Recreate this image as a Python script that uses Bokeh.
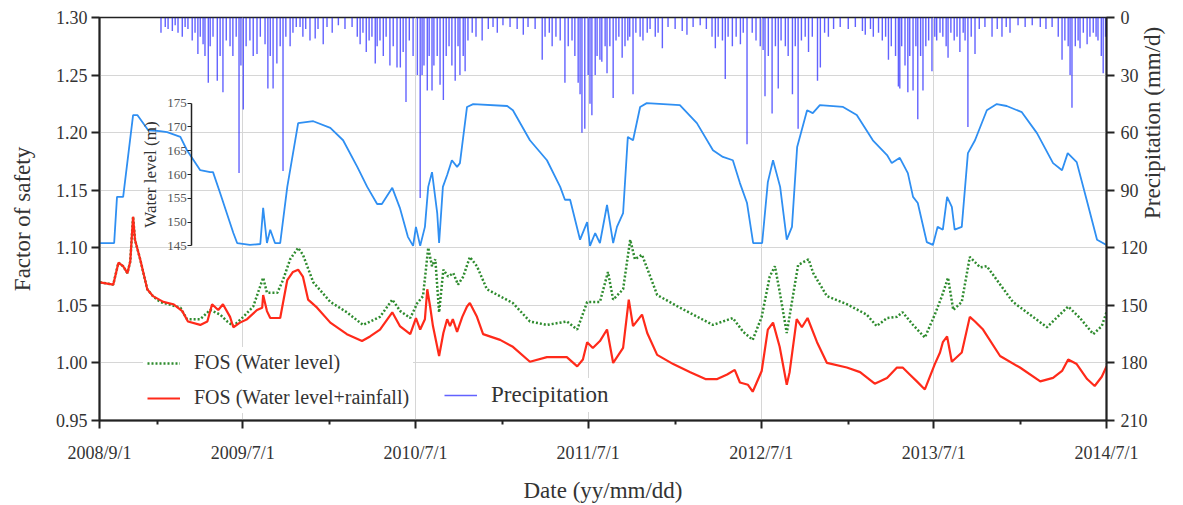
import math
import numpy as np
import pandas as pd
from bokeh.plotting import figure
from bokeh.models import (Range1d, LinearAxis, FixedTicker, Legend, LegendItem,
                          ColumnDataSource, NumeralTickFormatter)
from bokeh.embed import file_html
from bokeh.resources import INLINE

START = "2008-09-01"   # day 0 of all "day" arrays below
END = "2014-07-01"

# ---- water level (m) ----
wl_day = [1, 31, 37, 50, 71, 80, 103, 128, 143, 171, 185, 213, 234, 240, 255, 283, 291, 318, 340, 346,
          354, 361, 371, 382, 397, 420, 452, 488, 515, 545, 566, 587, 597, 619, 635, 652, 663, 669, 678,
          688, 695, 703, 714, 718, 726, 735, 745, 756, 762, 777, 790, 862, 874, 910, 946, 974, 984, 995,
          1016, 1031, 1037, 1048, 1058, 1073, 1086, 1094, 1107, 1117, 1128, 1143, 1157, 1227, 1263, 1297,
          1318, 1339, 1354, 1369, 1382, 1401, 1413, 1424, 1439, 1453, 1464, 1475, 1496, 1508, 1523, 1572,
          1601, 1635, 1665, 1675, 1692, 1709, 1720, 1730, 1749, 1762, 1772, 1783, 1792, 1802, 1808, 1823,
          1836, 1851, 1876, 1897, 1918, 1950, 1982, 2016, 2035, 2047, 2066, 2087, 2109, 2129]
wl_m = [145.6, 145.6, 155.3, 155.3, 172.5, 172.5, 169.3, 169.1, 168.9, 167.9, 165.1, 160.9, 160.5, 160.5,
        156.1, 147.7, 145.6, 145.2, 145.4, 153.0, 145.6, 148.4, 145.6, 145.6, 157.4, 170.8, 171.2, 169.8,
        167.2, 161.6, 157.4, 153.8, 153.8, 157.2, 153.0, 146.9, 145.0, 149.0, 145.0, 149.0, 157.4, 160.5,
        151.9, 145.6, 157.4, 159.9, 163.0, 161.6, 162.4, 174.2, 174.8, 174.4, 173.5, 167.2, 163.0, 157.4,
        154.7, 154.7, 146.3, 150.0, 145.0, 147.7, 145.6, 153.6, 145.6, 149.0, 151.9, 167.9, 167.2, 174.2,
        175.0, 174.6, 170.8, 165.1, 163.7, 163.0, 158.2, 154.0, 145.6, 145.6, 158.4, 163.0, 157.4, 146.3,
        149.0, 165.8, 173.5, 172.9, 174.6, 174.2, 172.5, 167.2, 164.1, 162.4, 163.5, 160.3, 155.3, 154.0,
        145.8, 145.2, 149.0, 148.4, 155.3, 153.2, 148.4, 149.0, 164.5, 167.2, 173.5, 174.8, 174.4, 173.1,
        168.7, 162.4, 160.9, 164.5, 162.6, 154.7, 146.3, 145.2]

# ---- FOS (water level + rainfall) ----
red_day = [1, 29, 40, 50, 59, 65, 71, 75, 86, 101, 113, 135, 156, 175, 187, 213, 228, 238, 251, 261, 276,
           283, 297, 312, 333, 344, 346, 354, 361, 382, 397, 409, 420, 430, 441, 460, 488, 523, 555, 572,
           593, 619, 635, 657, 669, 678, 688, 693, 699, 705, 718, 727, 735, 741, 747, 756, 767, 777, 783,
           798, 811, 847, 874, 910, 946, 988, 1010, 1022, 1031, 1043, 1058, 1073, 1086, 1107, 1119, 1128,
           1147, 1158, 1179, 1213, 1249, 1281, 1306, 1327, 1343, 1354, 1371, 1381, 1400, 1413, 1424, 1438,
           1453, 1459, 1474, 1485, 1497, 1517, 1538, 1580, 1608, 1639, 1665, 1686, 1698, 1713, 1728, 1745,
           1766, 1777, 1783, 1792, 1802, 1823, 1840, 1851, 1868, 1904, 1946, 1989, 2016, 2035, 2048, 2066,
           2088, 2104, 2119, 2129]
red_fos = [1.070, 1.068, 1.087, 1.084, 1.078, 1.088, 1.127, 1.107, 1.090, 1.064, 1.058, 1.053, 1.051,
           1.045, 1.036, 1.033, 1.036, 1.051, 1.046, 1.051, 1.040, 1.031, 1.035, 1.038, 1.046, 1.048,
           1.059, 1.045, 1.039, 1.039, 1.072, 1.079, 1.081, 1.075, 1.055, 1.048, 1.035, 1.025, 1.019,
           1.023, 1.029, 1.044, 1.032, 1.025, 1.039, 1.029, 1.038, 1.064, 1.049, 1.032, 1.006, 1.026,
           1.038, 1.032, 1.038, 1.027, 1.040, 1.049, 1.052, 1.040, 1.025, 1.020, 1.014, 1.001, 1.005,
           1.005, 0.997, 1.003, 1.018, 1.013, 1.019, 1.029, 1.000, 1.013, 1.055, 1.032, 1.042, 1.026,
           1.007, 0.999, 0.992, 0.986, 0.986, 0.990, 0.994, 0.983, 0.981, 0.975, 0.993, 1.029, 1.035,
           1.014, 0.981, 0.992, 1.038, 1.031, 1.039, 1.018, 1.000, 0.996, 0.992, 0.982, 0.987, 0.996,
           0.996, 0.990, 0.984, 0.977, 0.999, 1.009, 1.018, 1.023, 1.001, 1.009, 1.040, 1.036, 1.029,
           1.006, 0.996, 0.984, 0.987, 0.993, 1.003, 0.999, 0.986, 0.980, 0.988, 0.997]

# ---- FOS (water level) ----
green_day = [1, 29, 40, 50, 59, 65, 71, 75, 86, 101, 113, 128, 171, 185, 213, 234, 255, 270, 283, 304, 325,
             346, 354, 376, 388, 403, 420, 430, 452, 488, 523, 557, 593, 619, 636, 657, 672, 684, 695, 703,
             710, 718, 727, 737, 748, 758, 769, 783, 798, 819, 874, 910, 946, 988, 1010, 1031, 1058, 1075,
             1086, 1107, 1122, 1132, 1147, 1179, 1227, 1297, 1339, 1361, 1381, 1400, 1417, 1428, 1438,
             1453, 1466, 1477, 1499, 1509, 1538, 1580, 1622, 1643, 1665, 1686, 1698, 1720, 1745, 1766,
             1781, 1794, 1805, 1823, 1840, 1862, 1876, 1931, 2003, 2048, 2073, 2101, 2119, 2129]
green_fos = [1.070, 1.068, 1.087, 1.084, 1.078, 1.088, 1.127, 1.107, 1.090, 1.064, 1.058, 1.053, 1.048,
             1.038, 1.038, 1.046, 1.042, 1.036, 1.032, 1.040, 1.049, 1.074, 1.061, 1.061, 1.072, 1.090,
             1.100, 1.094, 1.070, 1.053, 1.044, 1.033, 1.040, 1.055, 1.045, 1.039, 1.052, 1.058, 1.100,
             1.084, 1.090, 1.044, 1.081, 1.075, 1.078, 1.068, 1.075, 1.092, 1.084, 1.064, 1.052, 1.036,
             1.033, 1.036, 1.029, 1.053, 1.053, 1.079, 1.055, 1.064, 1.107, 1.090, 1.094, 1.059, 1.048,
             1.033, 1.039, 1.027, 1.020, 1.040, 1.075, 1.084, 1.062, 1.026, 1.058, 1.085, 1.090, 1.078,
             1.058, 1.051, 1.042, 1.032, 1.039, 1.040, 1.044, 1.033, 1.022, 1.042, 1.058, 1.074, 1.046,
             1.053, 1.092, 1.083, 1.084, 1.053, 1.031, 1.049, 1.039, 1.025, 1.032, 1.044]

# ---- daily precipitation (mm/d), rain days only ----
rain_day = [130, 139, 145, 154, 160, 166, 175, 181, 187, 196, 202, 208, 213, 219, 223, 230, 234, 240, 249,
            255, 261, 268, 276, 282, 289, 295, 299, 304, 310, 318, 325, 333, 340, 350, 356, 361, 367, 375,
            382, 388, 394, 403, 409, 416,
            424, 430, 436, 445, 456, 462, 473, 481, 492, 505, 519, 534, 545, 551, 557, 564, 570, 576, 583,
            587, 593, 600, 606, 614, 621, 629, 636, 642, 648, 655, 663, 672, 678, 682, 686, 693, 697, 703,
            707, 714, 720, 727, 733, 739, 745, 752, 758, 762, 769, 773, 779, 788, 796, 809, 822, 832, 841,
            853, 868, 883, 896, 906, 921, 936, 942, 951, 957, 965, 974, 984, 991, 999, 1005, 1012, 1016,
            1020, 1026, 1033, 1037, 1041, 1048, 1052, 1058,
            1062, 1069, 1073, 1079, 1086, 1092, 1098, 1105, 1111, 1117, 1121, 1128, 1134, 1143, 1149, 1158,
            1164, 1175, 1181, 1190, 1202, 1217, 1232, 1242, 1255, 1270, 1283, 1295, 1302, 1308, 1317, 1323,
            1329, 1338, 1346, 1355, 1361, 1369, 1380, 1388, 1397, 1403, 1407, 1414, 1422, 1429, 1435, 1441,
            1450, 1456, 1465, 1471, 1477, 1484, 1492, 1499, 1507, 1518, 1524, 1533, 1541, 1552, 1566, 1583,
            1598, 1613, 1619, 1630, 1636, 1647, 1655, 1662, 1668, 1674, 1683, 1689,
            1692, 1696, 1703, 1709, 1713, 1720, 1726, 1730, 1736, 1741, 1747, 1753, 1760, 1766, 1770, 1777,
            1783, 1790, 1794, 1800, 1807, 1813, 1819, 1826, 1830, 1836, 1843, 1851, 1860, 1872, 1887, 1898,
            1908, 1917, 1925, 1942, 1957, 1972, 1989, 2001, 2014, 2027, 2035, 2041, 2048, 2052, 2056, 2063,
            2069, 2073, 2080, 2088, 2094, 2101, 2107, 2111, 2118, 2122, 2127]
rain_mm = [8, 5, 6, 7, 4, 8, 10, 5, 6, 12, 8, 19, 10, 14, 20, 34, 15, 10, 33, 20, 39, 12, 15, 20, 10, 81,
           25, 48, 15, 12, 20, 19, 10, 14, 37, 20, 37, 24, 15, 80, 10, 15, 8, 5,
           5, 10, 6, 12, 11, 6, 14, 5, 8, 4, 6, 5, 10, 14, 8, 18, 12, 10, 24, 15, 12, 20, 10, 25, 15, 26, 26,
           18, 44, 12, 20, 30, 94, 30, 25, 38, 20, 38, 25, 20, 35, 43, 20, 15, 25, 33, 15, 30, 20, 28, 12, 8,
           10, 12, 6, 5, 8, 4, 5, 6, 9, 5, 6, 22, 10, 8, 15, 10, 12, 34, 15, 12, 20, 34, 40, 60, 58, 30, 45,
           51, 30, 20, 22,
           23, 15, 29, 15, 42, 12, 10, 21, 15, 12, 10, 40, 8, 10, 12, 8, 6, 10, 8, 16, 5, 6, 7, 9, 5, 4, 6,
           10, 16, 10, 12, 32, 10, 15, 10, 14, 8, 66, 8, 12, 15, 17, 41, 20, 50, 15, 37, 12, 15, 20, 40, 15,
           58, 12, 10, 18, 10, 33, 26, 8, 10, 6, 5, 6, 5, 7, 9, 6, 10, 8, 12, 10, 22, 15, 20, 36,
           37, 15, 25, 39, 20, 38, 15, 53, 20, 38, 15, 12, 28, 10, 12, 8, 10, 15, 21, 8, 12, 10, 18, 8, 12,
           57, 10, 19, 6, 5, 10, 6, 10, 5, 8, 4, 5, 4, 5, 6, 5, 10, 22, 12, 15, 30, 47, 15, 12, 16, 8, 14,
           10, 8, 10, 12, 20, 29, 10]

# ---- axes ----
x_tick_dates = ["2008-09-01", "2009-07-01", "2010-07-01", "2011-07-01", "2012-07-01", "2013-07-01", "2014-07-01"]
x_tick_labels = ["2008/9/1", "2009/7/1", "2010/7/1", "2011/7/1", "2012/7/1", "2013/7/1", "2014/7/1"]
x_minor_dates = ["2009-01-01", "2010-01-01", "2011-01-01", "2012-01-01", "2013-01-01", "2014-01-01"]
fos_ticks = [0.95, 1.00, 1.05, 1.10, 1.15, 1.20, 1.25, 1.30]
rain_ticks = [0, 30, 60, 90, 120, 150, 180, 210]
wl_ticks = [145, 150, 155, 160, 165, 170, 175]
wl_axis_date = "2009-03-15"        # where the inner water-level axis stands
wl_range = (108.3, 193.0)          # water-level scale limits so 145-175 sits inside the frame

FONT = "Liberation Serif"
TXT = "#333333"

t0 = pd.Timestamp(START)
def to_dt(days):
    return t0 + pd.to_timedelta(np.asarray(days, dtype=float), unit="D")
def ms(d):
    return int(pd.Timestamp(d).value // 10**6)

p = figure(width=1183, height=505, x_axis_type="datetime",
           x_range=Range1d(pd.Timestamp(START), pd.Timestamp(END)),
           y_range=Range1d(0.95, 1.30), output_backend="svg", toolbar_location=None,
           min_border_left=99, min_border_right=77, min_border_top=17, min_border_bottom=84,
           background_fill_color="white", border_fill_color="white")
p.outline_line_color = "#222222"
p.outline_line_width = 1.5
p.extra_y_ranges = {"rain": Range1d(210, 0), "wl": Range1d(*wl_range)}

# grids
p.xgrid.grid_line_color = "#d6d6d6"
p.ygrid.grid_line_color = "#d6d6d6"

# bottom axis
xa = p.xaxis[0]
xa.ticker = FixedTicker(ticks=[ms(d) for d in x_tick_dates], minor_ticks=[ms(d) for d in x_minor_dates])
xa.major_label_overrides = {ms(d): lab for d, lab in zip(x_tick_dates, x_tick_labels)}
xa.axis_label = "Date (yy/mm/dd)"

# left axis
ya = p.yaxis[0]
ya.ticker = FixedTicker(ticks=fos_ticks)
ya.formatter = NumeralTickFormatter(format="0.00")
ya.axis_label = "Factor of safety"

# right axis
ra = LinearAxis(y_range_name="rain", ticker=FixedTicker(ticks=rain_ticks), axis_label="Precipitation (mm/d)")
ra.axis_label_orientation = math.pi / 2
p.add_layout(ra, "right")

for ax in (xa, ya, ra):
    ax.axis_line_width = 2
    ax.axis_line_color = "#222222"
    ax.major_tick_line_color = "#222222"
    ax.major_tick_line_width = 2
    ax.major_tick_out = 8
    ax.major_tick_in = 0
    ax.minor_tick_line_color = "#222222"
    ax.minor_tick_line_width = 2
    ax.minor_tick_out = 4
    ax.minor_tick_in = 0
    ax.major_label_text_font = FONT
    ax.major_label_text_font_size = "18px"
    ax.major_label_text_color = TXT
    ax.axis_label_text_font = FONT
    ax.axis_label_text_font_size = "23px"
    ax.axis_label_text_font_style = "normal"
    ax.axis_label_text_color = TXT
ya.minor_tick_out = 0
ra.minor_tick_out = 0
xa.major_label_standoff = 14
xa.axis_label_standoff = 12
ya.major_label_standoff = 4
ya.axis_label_standoff = 18
ra.major_tick_out = 8
ra.major_label_standoff = 6
ra.axis_label_standoff = 2

# inner water level axis
wa = LinearAxis(y_range_name="wl", fixed_location=ms(wl_axis_date), bounds=(wl_ticks[0], wl_ticks[-1]),
                ticker=FixedTicker(ticks=wl_ticks), axis_label="Water level (m)")
wa.axis_line_color = "#222222"
wa.axis_line_width = 1.5
wa.major_tick_line_color = "#222222"
wa.major_tick_out = 4
wa.major_tick_in = 0
wa.minor_tick_out = 0
wa.major_label_text_font = FONT
wa.major_label_text_font_size = "13px"
wa.major_label_text_color = "#555555"
wa.major_label_standoff = 1
wa.axis_label_text_font = FONT
wa.axis_label_text_font_size = "17px"
wa.axis_label_text_font_style = "normal"
wa.axis_label_text_color = TXT
wa.axis_label_standoff = 4
p.add_layout(wa, "left")

# data renderers
rain_src = ColumnDataSource(dict(x=to_dt(rain_day), top=[0] * len(rain_mm), mm=rain_mm))
r_rain = p.segment(x0="x", y0="top", x1="x", y1="mm", source=rain_src, y_range_name="rain",
                   line_color="#1f1fff", line_alpha=0.7, line_width=1.4)
r_wl = p.line(to_dt(wl_day), wl_m, y_range_name="wl", line_color="#2f8ff2", line_width=1.8)
r_green = p.line(to_dt(green_day), green_fos, line_color="#2e8b2e", line_width=2.5, line_dash="2 2")
r_red = p.line(to_dt(red_day), red_fos, line_color="#ff2a1a", line_width=2.2)

common = dict(border_line_alpha=0, background_fill_alpha=1, background_fill_color="white",
              label_text_font=FONT, label_text_color=TXT, glyph_width=33, glyph_height=20,
              label_height=20, padding=4, spacing=12, margin=0, label_standoff=14)
leg1 = Legend(items=[LegendItem(label="FOS (Water level)", renderers=[r_green]),
                     LegendItem(label="FOS (Water level+rainfall)", renderers=[r_red])],
              location=(44, 7), label_text_font_size="20px", **common)
leg2 = Legend(items=[LegendItem(label="Precipitation", renderers=[r_rain])],
              location=(341, 8), label_text_font_size="23px", **common)
p.add_layout(leg1)
p.add_layout(leg2)

open("out.html", "w").write(file_html(p, INLINE))
